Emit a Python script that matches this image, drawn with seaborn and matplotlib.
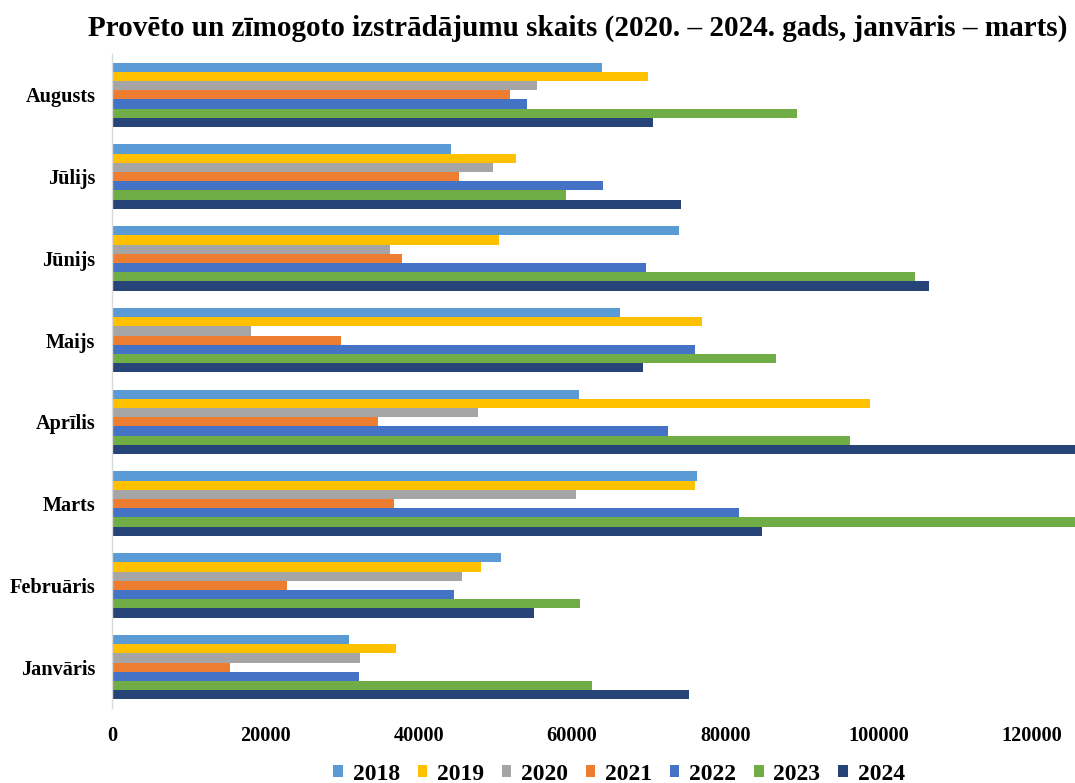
# Grouped horizontal bars: checked items per month, 2018-2024
import pandas as pd
import seaborn as sns
import matplotlib.pyplot as plt
from matplotlib.patches import Patch

months = ['Janvāris', 'Februāris', 'Marts', 'Aprīlis', 'Maijs', 'Jūnijs', 'Jūlijs', 'Augusts']
years = ['2018', '2019', '2020', '2021', '2022', '2023', '2024']

v2018 = [30900, 50700, 76300, 60900, 66200, 73900, 44200, 63900]
v2019 = [37000, 48100, 76100, 98900, 76900, 50500, 52700, 69900]
v2020 = [32400, 45700, 60500, 47700, 18100, 36200, 49700, 55400]
v2021 = [15400, 22800, 36800, 34700, 29900, 37800, 45300, 51900]
v2022 = [32200, 44600, 81800, 72500, 76000, 69600, 64100, 54100]
v2023 = [62600, 61000, 130000, 96300, 86600, 104700, 59200, 89300]
v2024 = [75200, 55100, 84800, 128000, 69300, 106600, 74200, 70500]

colors = ['#5B9BD5', '#FFC000', '#A5A5A5', '#ED7D31', '#4472C4', '#70AD47', '#264478']

series = [v2018, v2019, v2020, v2021, v2022, v2023, v2024]
rows = []
for year, vals in zip(years, series):
    for month, v in zip(months, vals):
        rows.append({'month': month, 'year': year, 'value': v})
df = pd.DataFrame(rows)

sns.set_theme(style='white')
plt.rcParams['font.family'] = ['Liberation Serif', 'DejaVu Serif']
plt.rcParams['font.weight'] = 'bold'
plt.rcParams['text.color'] = 'black'
plt.rcParams['xtick.color'] = 'black'
plt.rcParams['ytick.color'] = 'black'

fig = plt.figure(figsize=(10.75, 7.83), dpi=100)
ax = fig.add_axes([112 / 1075, 1 - 708 / 783, 1 - 112 / 1075, (708 - 54) / 783])

sns.barplot(data=df, x='value', y='month', hue='year', orient='h',
            order=months[::-1], hue_order=years, palette=colors,
            width=0.79, gap=0, linewidth=0, saturation=1, ax=ax, legend=False)

ax.set_xlim(0, 125600)
ax.set_ylim(len(months) - 0.5, -0.5)
ax.set_xticks(range(0, 120001, 20000))
ax.set_xlabel('')
ax.set_ylabel('')
ax.tick_params(axis='both', length=0, labelsize=14.6, labelcolor='black')
ax.tick_params(axis='y', pad=12)
ax.tick_params(axis='x', pad=13)
for lab in ax.get_xticklabels() + ax.get_yticklabels():
    lab.set_fontweight('bold')

for side in ['top', 'right', 'bottom']:
    ax.spines[side].set_visible(False)
ax.spines['left'].set_color('#d9d9d9')
ax.spines['left'].set_linewidth(1)
ax.grid(False)

fig.text(0.5377, 1 - 28 / 783, 'Provēto un zīmogoto izstrādājumu skaits (2020. – 2024. gads, janvāris – marts)',
         ha='center', va='center', fontsize=21, fontweight='bold', color='black')

handles = [Patch(facecolor=c, edgecolor='none', label=y) for c, y in zip(colors, years)]
fig.legend(handles=handles, loc='center', bbox_to_anchor=(619 / 1075, 1 - 774 / 783), ncol=7,
           frameon=False, handlelength=0.4, handleheight=0.4,
           handletextpad=0.42, columnspacing=0.75, prop={'weight': 'bold', 'size': 17})

fig.savefig('out.png', dpi=100)
